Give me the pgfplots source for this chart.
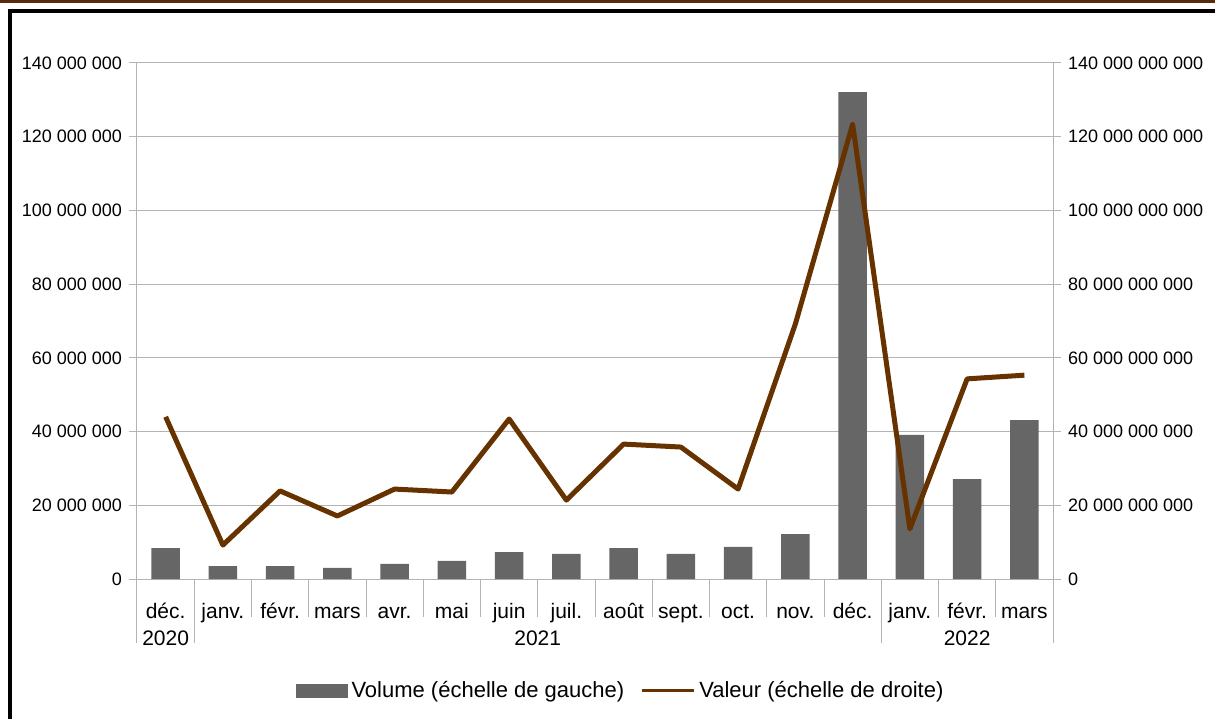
\documentclass[border=0pt]{standalone}
\usepackage{fontspec}
\setmainfont{Liberation Sans}
\usepackage{pgfplots}
\pgfplotsset{compat=1.18}
\definecolor{barcol}{HTML}{666666}
\definecolor{linecol}{HTML}{663300}
\definecolor{gridcol}{HTML}{B3B3B3}
\definecolor{topbrown}{HTML}{5A2A0E}

\pgfplotsset{
  base/.style={
    scale only axis, width=458pt, height=258pt,
    at={(68.5pt,69.5pt)}, anchor=south west,
    xmin=-0.5, xmax=15.5, ymin=0, ymax=140,
    enlargelimits=false, clip=false,
    ytick={0,20,...,140},
    font=\fontsize{9}{11}\selectfont,
    axis line style={gridcol, line width=0.5pt},
    tick style={gridcol, line width=0.5pt},
    tick align=outside, major tick length=4pt,
  }
}

\begin{document}
\begin{tikzpicture}
\useasboundingbox (0,0) rectangle (607.5pt,359pt);
\begin{scope}
  \clip (0,0) rectangle (607.5pt,359pt);
  \fill[topbrown] (0,357.6pt) rectangle (607.5pt,359pt);
  \draw[black, line width=1.75pt] (5pt,-10pt) rectangle (620pt,353.5pt);
\end{scope}

% left axis: volume (millions)
\begin{axis}[base,
    axis y line*=left, axis x line*=bottom,
    ymajorgrids, grid style={gridcol, line width=0.5pt},
    yticklabels={0,{20 000 000},{40 000 000},{60 000 000},{80 000 000},{100 000 000},{120 000 000},{140 000 000}},
    xtick={0,...,15},
    xticklabels={déc.,janv.,févr.,mars,avr.,mai,juin,juil.,août,sept.,oct.,nov.,déc.,janv.,févr.,mars},
    x tick style={draw=none},
    xticklabel style={anchor=base, yshift=-15.5pt, font=\fontsize{10.5}{12}\selectfont},
  ]
  \addplot[ybar, bar width=0.5, bar shift=0pt, fill=barcol, draw=none] coordinates {
    (0, 8.4) (1, 3.5) (2, 3.5) (3, 3.0) (4, 4.1) (5, 4.9) (6, 7.3) (7, 6.8)
    (8, 8.4) (9, 6.8) (10, 8.7) (11, 12.2) (12, 132.1) (13, 39.1) (14, 27.1) (15, 43.1)
  };
  % month / year separators below the axis
  \pgfplotsinvokeforeach{1.5,2.5,3.5,4.5,5.5,6.5,7.5,8.5,9.5,10.5,11.5,13.5,14.5}{
    \draw[gridcol, line width=0.5pt] (axis cs:#1,0) -- ++(0pt,-19pt);
  }
  \pgfplotsinvokeforeach{-0.5,0.5,12.5,15.5}{
    \draw[gridcol, line width=0.5pt] (axis cs:#1,0) -- ++(0pt,-32pt);
  }
  \node[anchor=base, font=\fontsize{10.5}{12}\selectfont] at ([yshift=-33pt]axis cs:0,0) {2020};
  \node[anchor=base, font=\fontsize{10.5}{12}\selectfont] at ([yshift=-33pt]axis cs:6.5,0) {2021};
  \node[anchor=base, font=\fontsize{10.5}{12}\selectfont] at ([yshift=-33pt]axis cs:14,0) {2022};
\end{axis}

% right axis: value (billions)
\begin{axis}[base,
    axis y line*=right, axis x line=none,
    yticklabels={0,{20 000 000 000},{40 000 000 000},{60 000 000 000},{80 000 000 000},{100 000 000 000},{120 000 000 000},{140 000 000 000}},
    yticklabel style={anchor=west},
    legend style={draw=none, fill=none, at={(0.529,-0.217)}, anchor=center,
      legend columns=2, font=\fontsize{11}{13}\selectfont,
      /tikz/every even column/.append style={column sep=6pt}},
  ]
  \addlegendimage{legend image code/.code={\fill[barcol] (0pt,-3.25pt) rectangle (25.5pt,3.25pt);}}
  \addlegendentry{Volume (échelle de gauche)}
  \addplot[linecol, line width=2.5pt, line join=round,
      legend image code/.code={\draw[linecol, line width=1.5pt] (0pt,0pt) -- (26pt,0pt);}] coordinates {
    (0, 44.0) (1, 9.2) (2, 23.9) (3, 17.1) (4, 24.4) (5, 23.6) (6, 43.4) (7, 21.4)
    (8, 36.6) (9, 35.8) (10, 24.4) (11, 69.2) (12, 123.4) (13, 13.6) (14, 54.3) (15, 55.3)
  };
  \addlegendentry{Valeur (échelle de droite)}
\end{axis}
\end{tikzpicture}
\end{document}
